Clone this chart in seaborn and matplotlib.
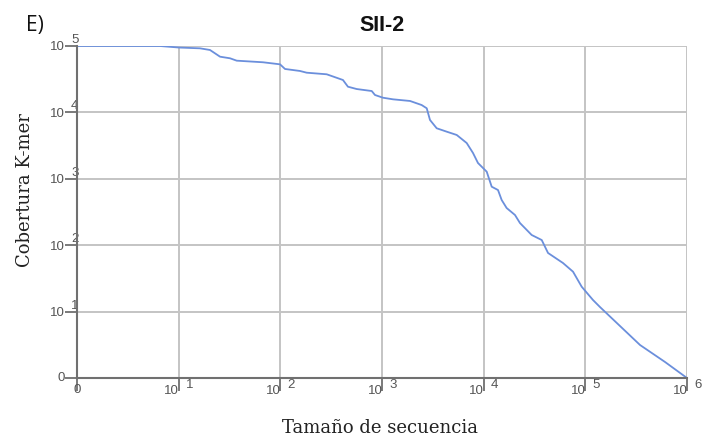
import numpy as np
import pandas as pd
import matplotlib
matplotlib.use("Agg")
import matplotlib.pyplot as plt
import seaborn as sns
from matplotlib import font_manager

# Data (log10 units of sequence size and k-mer coverage)
seq_log10 = [0.000, 0.816, 1.003, 1.210, 1.308, 1.407, 1.505, 1.571, 1.829, 1.997,
             2.046, 2.193, 2.259, 2.456, 2.616, 2.665, 2.751, 2.899, 2.931, 3.010,
             3.108, 3.276, 3.390, 3.440, 3.472, 3.538, 3.636, 3.735, 3.833, 3.895,
             3.944, 4.030, 4.079, 4.141, 4.177, 4.226, 4.308, 4.357, 4.472, 4.571,
             4.633, 4.780, 4.879, 4.964, 5.075, 5.144, 5.341, 5.538, 5.784, 6.000]
cov_log10 = [5.000, 5.000, 4.977, 4.965, 4.940, 4.839, 4.815, 4.779, 4.755, 4.724,
             4.654, 4.624, 4.598, 4.574, 4.488, 4.387, 4.352, 4.322, 4.262, 4.221,
             4.197, 4.172, 4.111, 4.062, 3.886, 3.761, 3.710, 3.660, 3.539, 3.389,
             3.238, 3.107, 2.881, 2.831, 2.681, 2.560, 2.455, 2.334, 2.154, 2.078,
             1.883, 1.732, 1.601, 1.375, 1.175, 1.069, 0.783, 0.497, 0.241, 0.000]

x_ticks = [0, 1, 2, 3, 4, 5, 6]
y_ticks = [0, 1, 2, 3, 4, 5]
tick_base = "10"
zero_label = "0"

title = "SII-2"
panel = "E)"
xlabel = "Tamaño de secuencia"
ylabel = "Cobertura K-mer"

df = pd.DataFrame({"x": seq_log10, "y": cov_log10})

sns.set_theme(style="white", rc={
    "xtick.bottom": True, "ytick.left": True,
    "xtick.major.size": 9, "ytick.major.size": 9,
    "xtick.major.width": 1.3, "ytick.major.width": 1.3,
    "xtick.color": "#707070", "ytick.color": "#707070",
    "xtick.direction": "out", "ytick.direction": "out",
})
plt.rcParams["font.family"] = ["Liberation Sans", "DejaVu Sans"]

names = {f.name for f in font_manager.fontManager.ttflist}
tick_family = "Liberation Sans Narrow" if "Liberation Sans Narrow" in names else "Liberation Sans"

fig = plt.figure(figsize=(7.15, 4.42), dpi=100)
ax = fig.add_axes([77 / 715, 1 - 378 / 442, (687 - 77) / 715, (378 - 46) / 442])

sns.lineplot(data=df, x="x", y="y", ax=ax, color="#6b8fdc", linewidth=1.3,
             sort=False, estimator=None)

ax.set_xlim(0, 6)
ax.set_ylim(0, 5)
ax.set_xticks(x_ticks)
ax.set_xticklabels([])
ax.set_yticks(y_ticks)
ax.set_yticklabels([])
ax.set_xlabel("")
ax.set_ylabel("")

ax.grid(True, color="#c4c4c4", linewidth=1.4)
ax.set_axisbelow(True)
for s in ["top", "right"]:
    ax.spines[s].set_visible(False)
for s in ["left", "bottom"]:
    ax.spines[s].set_color("#707070")
    ax.spines[s].set_linewidth(1.5)
    ax.spines[s].set_zorder(3)

ax.tick_params(axis="x", which="major", bottom=True, length=9, width=1.3,
               color="#707070", direction="out")
ax.tick_params(axis="y", which="major", left=True, length=9, width=1.3,
               color="#707070", direction="out")
for t in ax.xaxis.get_major_ticks() + ax.yaxis.get_major_ticks():
    t.tick1line.set_visible(True)
    t.tick1line.set_markeredgecolor("#707070")

px = 0.72  # points per pixel at dpi 100
tk = dict(fontsize=9.5, family=tick_family, color="#555555")

# x tick labels: "0", then 10 with exponent
for e in x_ticks:
    if e == 0:
        ax.annotate(zero_label, xy=(e, 0), xycoords=("data", "axes fraction"),
                    xytext=(0, -6 * px), textcoords="offset points",
                    ha="center", va="top", **tk)
    else:
        ax.annotate(tick_base, xy=(e, 0), xycoords=("data", "axes fraction"),
                    xytext=(0.5 * px, -7 * px), textcoords="offset points",
                    ha="right", va="top", **tk)
        ax.annotate(str(e), xy=(e, 0), xycoords=("data", "axes fraction"),
                    xytext=(7 * px, -1 * px), textcoords="offset points",
                    ha="left", va="top", **tk)

# y tick labels
for e in y_ticks:
    if e == 0:
        ax.annotate(zero_label, xy=(0, e), xycoords=("axes fraction", "data"),
                    xytext=(-12 * px, 0), textcoords="offset points",
                    ha="right", va="center", **tk)
    else:
        ax.annotate(tick_base, xy=(0, e), xycoords=("axes fraction", "data"),
                    xytext=(-12 * px, -1.5 * px), textcoords="offset points",
                    ha="right", va="center", **tk)
        ax.annotate(str(e), xy=(0, e), xycoords=("axes fraction", "data"),
                    xytext=(-6 * px, 0), textcoords="offset points",
                    ha="left", va="bottom", **tk)

ax.set_title(title, fontsize=15.5, fontweight="bold", family="Liberation Sans",
             color="#111111", pad=11)
fig.text(380 / 715, 1 - 428 / 442, xlabel, fontsize=13, family="DejaVu Serif",
         color="#222222", ha="center", va="center")
fig.text(25 / 715, 1 - 190 / 442, ylabel, fontsize=13, family="DejaVu Serif",
         color="#222222", ha="center", va="center", rotation=90)

fig.text(26 / 715, 1 - 31 / 442, panel, fontsize=15, family="Open Sans", color="#111111")

fig.savefig("out.png", dpi=100)
